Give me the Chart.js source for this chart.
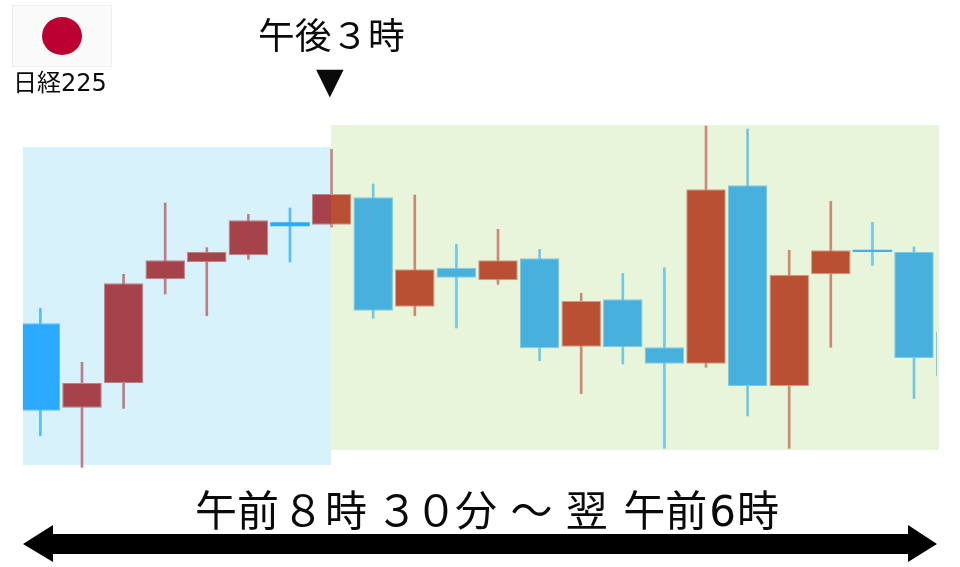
<!DOCTYPE html>
<html lang="ja">
  <head>
    <meta charset="UTF-8" />
    <title>日経225</title>
    <style>
      html, body { margin: 0; padding: 0; background: #ffffff; overflow: hidden; }
      #wrap { position: relative; width: 960px; height: 567px; }
      #myChart { position: absolute; left: 0; top: 0; }
      #arrow { position: absolute; left: 0; top: 0; }
      .txt {
        position: absolute;
        white-space: pre;
        line-height: 1;
        color: #0a0a0a;
        font-family: "DejaVu Sans", "Noto Sans CJK JP", sans-serif;
      }
      #flag {
        position: absolute; left: 12px; top: 5px; width: 98px; height: 60px;
        background: #fafafa; border: 1px solid #eeeeee;
      }
      #flag div {
        position: absolute; left: 29px; top: 11px; width: 40px; height: 38px;
        border-radius: 50%; background: #bc0030;
      }
    </style>
    <script src="https://cdn.jsdelivr.net/npm/chart.js"></script>
  </head>
  <body>
    <div id="wrap">
      <canvas id="myChart" width="960" height="567"></canvas>
      <div id="flag"><div></div></div>
      <div class="txt" style="left:13px;top:71px;font-size:24px">日経225</div>
      <div class="txt" style="left:258px;top:19px;font-size:36.7px">午後３時</div>
      <div class="txt" style="left:316px;top:63px;font-size:36px">▼</div>
      <div class="txt" style="left:195px;top:491px;font-size:42px">午前<span style="margin-left:3px">８</span><span style="margin-left:1px">時</span><span style="margin-left:9px">３</span><span style="margin-left:-3px">０</span><span style="margin-left:-2px">分</span> ～ 翌<span style="margin-left:2px"> 午前</span><span style="margin-left:2px">6</span><span style="margin-left:1px">時</span></div>
      <svg id="arrow" width="960" height="567">
        <polygon points="23,544 53,525 53,534 908,534 908,525 937,544 908,562 908,554 53,554 53,562" fill="#000000" />
      </svg>
    </div>
    <script>
      // price in points above the bottom of the plot
      const opens = [146.7, 62.3, 87, 190.7, 208, 214.7, 247.7, 245.3, 272.7, 163.3, 202.3, 189.7, 211.7, 123.3, 170.7, 122.7, 106.3, 284.7, 84, 195.7, 220.3, 218, 138.3];
      const closes = [59.3, 87, 186.7, 209.7, 218, 249.7, 243.7, 276, 159.3, 200.7, 192.3, 209.7, 121.7, 169, 122.7, 106.3, 280.7, 84, 195.3, 219.7, 218, 112, 94];
      const highs = [161.7, 107.7, 195.7, 267, 222.3, 255.7, 262, 320.7, 286, 275, 225.7, 240.7, 220.7, 176.7, 196.7, 202.3, 344, 341, 219.7, 268.7, 247.7, 223, 138.3];
      const lows = [34.3, 2.7, 61.7, 176, 154.3, 210.7, 208, 243, 151.7, 154.3, 142, 185.7, 109.3, 76.3, 106, 21.7, 102.7, 54, 21.7, 122.7, 204.7, 71.3, 94];

      // sessions: [first x, last x, low, high]
      const tokyoSession = [-0.418, 6.986, 5, 323];
      const nightSession = [6.986, 21.601, 20, 345];

      const tokyoColors = { up: "#a64249", down: "#2ba9ff", upWick: "#bd7d87", downWick: "#55bcff", upEdge: "#c27f86", downEdge: "#5fbdfd" };
      const nightColors = { up: "#ba5033", down: "#47b0dd", upWick: "#cb8a74", downWick: "#71c8e3", upEdge: "#d59a84", downEdge: "#7ccbe4" };
      const splitIndex = 7;

      const candleIndex = opens.map((_, i) => i);

      function paint(ctx, key) {
        const i = ctx.dataIndex;
        const name = (closes[i] > opens[i] ? "up" : "down") + key;
        if (i < splitIndex) return tokyoColors[name];
        if (i > splitIndex) return nightColors[name];
        // the candle on the session change is half on each panel
        const chart = ctx.chart;
        const x = chart.scales.x;
        const from = x.getPixelForValue(i - 0.5);
        const to = x.getPixelForValue(i + 0.5);
        const stop = (x.getPixelForValue(tokyoSession[1]) - from) / (to - from);
        const g = chart.ctx.createLinearGradient(from, 0, to, 0);
        g.addColorStop(0, tokyoColors[name]);
        g.addColorStop(stop, tokyoColors[name]);
        g.addColorStop(stop, nightColors[name]);
        g.addColorStop(1, nightColors[name]);
        return g;
      }

      const sessionPanels = {
        id: "sessionPanels",
        beforeDatasetsDraw(chart) {
          const { ctx, scales } = chart;
          [[tokyoSession, "#d8f2fc"], [nightSession, "#e9f5db"]].forEach(([s, color]) => {
            const left = scales.x.getPixelForValue(s[0]);
            const right = scales.x.getPixelForValue(s[1]);
            const top = scales.y.getPixelForValue(s[3]);
            const bottom = scales.y.getPixelForValue(s[2]);
            ctx.fillStyle = color;
            ctx.fillRect(left, top, right - left, bottom - top);
          });
        }
      };

      new Chart(document.getElementById("myChart"), {
        type: "bar",
        data: {
          datasets: [
            {
              label: "body",
              data: candleIndex.map((i) => ({ x: i, y: [opens[i], closes[i]] })),
              backgroundColor: (ctx) => paint(ctx, ""),
              borderColor: (ctx) => paint(ctx, "Edge"),
              // thin bodies would be all edge
              borderWidth: (ctx) => (Math.abs(opens[ctx.dataIndex] - closes[ctx.dataIndex]) < 6 ? 0 : 1),
              borderSkipped: false,
              barPercentage: 0.95,
              categoryPercentage: 1,
              clip: 0
            },
            {
              label: "wick",
              data: candleIndex.map((i) => ({ x: i, y: [lows[i], highs[i]] })),
              backgroundColor: (ctx) => paint(ctx, "Wick"),
              barThickness: 2,
              clip: 0
            }
          ]
        },
        options: {
          responsive: false,
          animation: false,
          grouped: false,
          layout: { padding: { left: 23, right: 23, top: 120, bottom: 97 } },
          plugins: { legend: { display: false }, tooltip: { enabled: false } },
          scales: {
            x: { type: "linear", offset: false, min: -0.418, max: 21.553, display: false },
            y: { min: 0, max: 350, display: false }
          }
        },
        plugins: [sessionPanels]
      });
    </script>
  </body>
</html>
